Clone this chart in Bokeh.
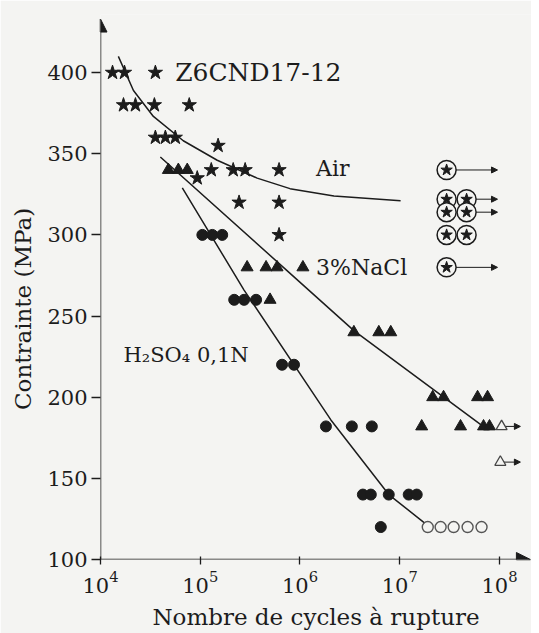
import numpy as np
from bokeh.plotting import figure
from bokeh.models import Range1d, FixedTicker, Arrow, NormalHead, ColumnDataSource, Label
from bokeh.embed import file_html
from bokeh.resources import INLINE

# ---------------- data ----------------
# Air : filled stars  (cycles to failure, stress MPa)
air_N = [1.32e4, 1.74e4, 3.55e4,
         1.70e4, 2.24e4, 3.47e4, 7.76e4,
         3.55e4, 4.47e4, 5.62e4,
         1.51e5,
         1.29e5, 2.14e5, 2.82e5, 6.17e5,
         9.33e4,
         2.45e5, 6.17e5,
         6.17e5]
air_S = [400, 400, 400,
         380, 380, 380, 380,
         360, 360, 360,
         355,
         340, 340, 340, 340,
         335,
         320, 320,
         300]
# Air : run-outs (circled stars)
air_run_N = [2.95e7, 2.95e7, 4.68e7, 2.95e7, 4.68e7, 2.95e7, 4.68e7, 2.95e7]
air_run_S = [340, 322, 322, 314, 314, 300, 300, 280]
air_arrow_start_N = [2.95e7, 4.68e7, 4.68e7, 2.95e7]
air_arrow_end_N = [9.55e7, 9.55e7, 9.55e7, 9.55e7]
air_arrow_S = [340, 322, 314, 280]

# 3% NaCl : filled triangles
nacl_N = [4.79e4, 6.03e4, 7.41e4,
          2.95e5, 4.57e5, 5.89e5, 1.07e6,
          5.01e5,
          3.47e6, 6.17e6, 8.13e6,
          2.14e7, 2.75e7, 6.03e7, 7.59e7,
          1.66e7, 4.07e7, 6.92e7, 7.94e7]
nacl_S = [340, 340, 340,
          280, 280, 280, 280,
          260,
          240, 240, 240,
          200, 200, 200, 200,
          182, 182, 182, 182]
# 3% NaCl : run-outs (open triangles)
nacl_run_N = [1.05e8, 1.02e8]
nacl_run_S = [182, 160]
nacl_arrow_end_N = [1.62e8, 1.62e8]

# H2SO4 0.1N : filled circles
h2_N = [1.05e5, 1.32e5, 1.66e5,
        2.19e5, 2.75e5, 3.63e5,
        6.61e5, 8.71e5,
        1.82e6, 3.31e6, 5.25e6,
        4.27e6, 5.13e6, 7.76e6, 1.23e7, 1.48e7,
        6.46e6]
h2_S = [300, 300, 300,
        260, 260, 260,
        220, 220,
        182, 182, 182,
        140, 140, 140, 140, 140,
        120]
# H2SO4 : run-outs (open circles)
h2_run_N = [1.91e7, 2.57e7, 3.47e7, 4.79e7, 6.61e7]
h2_run_S = [120, 120, 120, 120, 120]

# fitted curves
air_fit_N = [1.51e4, 2.14e4, 3.39e4, 6.76e4, 1.48e5, 3.72e5, 7.94e5, 2.19e6, 1.02e7]
air_fit_S = [410, 389, 373, 358, 346, 335, 328.5, 324, 321]
nacl_fit_N = [3.98e4, 7.41e5, 3.47e6, 7.59e7]
nacl_fit_S = [348, 278, 241, 180]
h2_fit_N = [6.61e4, 2.75e5, 2.04e6, 7.76e6, 1.82e7]
h2_fit_S = [329, 266, 186, 140, 122]

x_ticks = [1e4, 1e5, 1e6, 1e7, 1e8]
y_ticks = [100, 150, 200, 250, 300, 350, 400]
X_AXIS_END = 10 ** 8.31
Y_AXIS_END = 433

# ---------------- styling ----------------
INK = "#1c1c1c"
BG = "#f4f4f2"
FONT = "DejaVu Serif"

p = figure(width=531, height=633, x_axis_type="log",
           x_range=Range1d(1e4, 10 ** 8.321), y_range=Range1d(100, 435.8),
           output_backend="svg", toolbar_location=None,
           min_border_left=100, min_border_right=0, min_border_top=14,
           min_border_bottom=74)
p.background_fill_color = BG
p.border_fill_color = BG
p.outline_line_color = None
p.grid.visible = False

for ax in (p.xaxis, p.yaxis):
    ax.axis_line_color = None
    ax.minor_tick_line_color = None
    ax.major_tick_line_color = INK
    ax.major_tick_line_width = 1.3
    ax.major_label_text_font = FONT
    ax.major_label_text_font_size = "21px"
    ax.major_label_text_color = INK
    ax.axis_label_text_font = FONT
    ax.axis_label_text_font_size = "23px"
    ax.axis_label_text_font_style = "normal"
    ax.axis_label_text_color = INK

p.xaxis.ticker = FixedTicker(ticks=x_ticks)
p.yaxis.ticker = FixedTicker(ticks=y_ticks)
p.yaxis.major_tick_out = 9
p.yaxis.major_tick_in = 0
p.yaxis.major_label_standoff = 4
p.yaxis.axis_label = "Contrainte (MPa)" + "\u00a0" * 6
p.yaxis.axis_label_standoff = 8
p.xaxis.major_tick_out = 5
p.xaxis.major_tick_in = 3
p.xaxis.major_label_standoff = 6
p.xaxis.axis_label = "Nombre de cycles à rupture"
p.xaxis.axis_label_standoff = 8

# axes with arrow heads
p.add_layout(Arrow(x_start=1e4, y_start=100, x_end=X_AXIS_END, y_end=100,
                   line_color=INK, line_width=1.5,
                   end=NormalHead(size=14, fill_color=INK, line_color=INK)))
p.add_layout(Arrow(x_start=1e4, y_start=100, x_end=1e4, y_end=Y_AXIS_END,
                   line_color=INK, line_width=1.5,
                   end=NormalHead(size=13, fill_color=INK, line_color=INK)))

# fitted curves
p.line(air_fit_N, air_fit_S, line_color=INK, line_width=1.5)
p.line(nacl_fit_N, nacl_fit_S, line_color=INK, line_width=1.5)
p.line(h2_fit_N, h2_fit_S, line_color=INK, line_width=1.5)

# run-out arrows (under the markers)
air_arrows = ColumnDataSource(dict(x0=air_arrow_start_N, x1=air_arrow_end_N, y=air_arrow_S))
p.add_layout(Arrow(source=air_arrows, x_start="x0", y_start="y", x_end="x1", y_end="y",
                   line_color=INK, line_width=1, level="underlay",
                   end=NormalHead(size=6, fill_color=INK, line_color=INK)))
nacl_arrows = ColumnDataSource(dict(x0=nacl_run_N, x1=nacl_arrow_end_N, y=nacl_run_S))
p.add_layout(Arrow(source=nacl_arrows, x_start="x0", y_start="y", x_end="x1", y_end="y",
                   line_color=INK, line_width=1, level="underlay",
                   end=NormalHead(size=6, fill_color=INK, line_color=INK)))

# markers
p.scatter(air_N, air_S, marker="star", size=15, color=INK)
p.scatter(nacl_N, nacl_S, marker="triangle", size=12, color=INK)
p.scatter(h2_N, h2_S, marker="circle", size=11, color=INK)
p.scatter(h2_run_N, h2_run_S, marker="circle", size=11, fill_color=BG,
          line_color="#555555", line_width=1.4)
p.scatter(nacl_run_N, nacl_run_S, marker="triangle", size=11, fill_color=BG,
          line_color="#444444", line_width=1.3)
p.scatter(air_run_N, air_run_S, marker="circle", size=19, fill_color=BG,
          line_color=INK, line_width=1.5)
p.scatter(air_run_N, air_run_S, marker="star", size=12, color=INK)

# labels
def lab(x, y, t, size="22px"):
    p.add_layout(Label(x=x, y=y, text=t, text_font=FONT, text_font_size=size,
                       text_color=INK, text_baseline="middle", text_align="left"))

lab(5.6e4, 400, "Z6CND17-12", "25px")
lab(1.45e6, 341, "Air")
lab(1.45e6, 280, "3%NaCl")
lab(1.7e4, 226, "H₂SO₄ 0,1N", "21px")

open("out.html", "w").write(file_html(p, INLINE))
